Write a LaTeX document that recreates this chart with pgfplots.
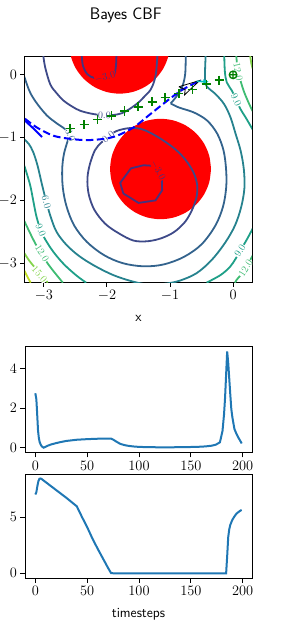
\documentclass[border=0pt]{standalone}
\usepackage{pgfplots}
\pgfplotsset{compat=1.18}
\definecolor{cmA}{HTML}{46327E}
\definecolor{cmB}{HTML}{3E4A89}
\definecolor{cmC}{HTML}{33638D}
\definecolor{cmD}{HTML}{26828E}
\definecolor{cmE}{HTML}{1FA088}
\definecolor{cmF}{HTML}{3FBC73}
\definecolor{cmG}{HTML}{84D44B}
\definecolor{cmH}{HTML}{C2DF23}
\definecolor{mplblue}{HTML}{1F77B4}
\definecolor{mplgreen}{HTML}{008000}
\definecolor{mplcyan}{HTML}{00BFBF}
\pgfplotsset{
 mpl/.style={scale only axis, axis line style={line width=1pt}, tick style={line width=1pt, black},
   tick align=outside, major tick length=4.6pt, xtick pos=bottom, ytick pos=left,
   tick label style={font=\fontsize{13.9}{16}\selectfont}},
 cl/.style={smooth, tension=0.55, line width=1.8pt},
}
\tikzset{clab/.style={font=\fontsize{10}{12}\selectfont, inner sep=0.5pt}}
\begin{document}
\begin{tikzpicture}
\begin{axis}[mpl, at={(25pt,-282pt)}, anchor=south west, width=227pt, height=226pt,
 xmin=-3.3, xmax=0.3, ymin=-3.3, ymax=0.3, xtick={-3,-2,-1,0}, ytick={-3,-2,-1,0},
 title={Bayes CBF}, title style={font=\sffamily\fontsize{16.7}{20}\selectfont, at={(axis description cs:0.5,1)}, anchor=base, yshift=31pt, xshift=-12.7pt},
 xlabel={x}, xlabel style={font=\sffamily\fontsize{13.9}{16}\selectfont, at={(axis description cs:0.5,0)}, anchor=base, yshift=-39.5pt}]
% obstacles
\addplot[draw=none, fill=red, smooth] coordinates {(-1.0,0.5) (-1.0273,0.7071) (-1.1072,0.9) (-1.2343,1.0657) (-1.4,1.1928) (-1.5929,1.2727) (-1.8,1.3) (-2.0071,1.2727) (-2.2,1.1928) (-2.3657,1.0657) (-2.4928,0.9) (-2.5727,0.7071) (-2.6,0.5) (-2.5727,0.2929) (-2.4928,0.1) (-2.3657,-0.0657) (-2.2,-0.1928) (-2.0071,-0.2727) (-1.8,-0.3) (-1.5929,-0.2727) (-1.4,-0.1928) (-1.2343,-0.0657) (-1.1072,0.1) (-1.0273,0.2929) (-1.0,0.5)};
\addplot[draw=none, fill=red, smooth] coordinates {(-0.35,-1.5) (-0.3773,-1.2929) (-0.4572,-1.1) (-0.5843,-0.9343) (-0.75,-0.8072) (-0.9429,-0.7273) (-1.15,-0.7) (-1.3571,-0.7273) (-1.55,-0.8072) (-1.7157,-0.9343) (-1.8428,-1.1) (-1.9227,-1.2929) (-1.95,-1.5) (-1.9227,-1.7071) (-1.8428,-1.9) (-1.7157,-2.0657) (-1.55,-2.1928) (-1.3571,-2.2727) (-1.15,-2.3) (-0.9429,-2.2727) (-0.75,-2.1928) (-0.5843,-2.0657) (-0.4572,-1.9) (-0.3773,-1.7071) (-0.35,-1.5)};
% level -3
\addplot[cl, cmA] coordinates {(-2.40,0.31) (-2.38,0.14) (-2.31,0.01) (-2.20,-0.05) (-2.03,-0.05) (-1.90,-0.03) (-1.86,0.12) (-1.85,0.31)};
\addplot[line width=1.8pt, cmA] coordinates {(-1.13,-1.66) (-1.125,-1.84) (-1.23,-2.0) (-1.50,-2.04) (-1.74,-1.89) (-1.79,-1.72) (-1.62,-1.49) (-1.42,-1.44) (-1.25,-1.45) (-1.15,-1.54) (-1.13,-1.66)};
% level 0
\addplot[cl, cmB] coordinates {(-3.01,0.31) (-2.98,0.12) (-2.90,-0.15) (-2.80,-0.29) (-2.69,-0.41) (-2.56,-0.50) (-2.43,-0.57) (-2.24,-0.62) (-2.04,-0.645) (-1.90,-0.64) (-1.76,-0.61) (-1.62,-0.53) (-1.50,-0.44) (-1.42,-0.36) (-1.31,-0.24) (-1.25,-0.10) (-1.22,0.05) (-1.20,0.31)};
\addplot[cl, cmB] coordinates {(-1.98,-0.99) (-1.86,-0.90) (-1.66,-0.85) (-1.47,-0.86) (-1.30,-0.93) (-1.10,-1.05) (-0.90,-1.20) (-0.75,-1.36) (-0.63,-1.55) (-0.57,-1.75) (-0.58,-1.95) (-0.65,-2.15) (-0.76,-2.34) (-0.93,-2.50) (-1.13,-2.60) (-1.35,-2.65) (-1.58,-2.64) (-1.82,-2.52) (-2.03,-2.37) (-2.20,-2.15) (-2.29,-1.90) (-2.31,-1.65) (-2.27,-1.42) (-2.19,-1.20) (-2.09,-1.08) (-1.98,-0.99)};
% level 3
\addplot[cl, cmC] coordinates {(-0.751,0.31) (-0.76,0.01) (-0.81,-0.20) (-0.91,-0.36) (-0.99,-0.455)};
\addplot[cl, cmC] coordinates {(-0.99,-0.455) (-0.86,-0.52) (-0.62,-0.60) (-0.41,-0.73) (-0.25,-0.94) (-0.15,-1.21) (-0.11,-1.52) (-0.11,-1.80) (-0.16,-2.10) (-0.28,-2.40) (-0.50,-2.70) (-0.78,-2.90) (-1.10,-3.02) (-1.42,-3.05) (-1.75,-3.00) (-2.05,-2.87) (-2.32,-2.66) (-2.52,-2.40) (-2.64,-2.10) (-2.70,-1.80) (-2.71,-1.50) (-2.68,-1.25) (-2.60,-0.98)};
\addplot[cl, cmC] coordinates {(-2.60,-0.98) (-2.66,-0.87) (-2.80,-0.77) (-2.95,-0.65) (-3.10,-0.47) (-3.21,-0.30) (-3.27,-0.15) (-3.31,-0.03)};
% level 6
\addplot[cl, cmD] coordinates {(-0.435,0.31) (-0.446,-0.04) (-0.42,-0.18) (-0.275,-0.31) (-0.14,-0.47) (-0.04,-0.68) (0.04,-0.94) (0.12,-1.21) (0.17,-1.50) (0.18,-1.80) (0.13,-2.10) (0.03,-2.40) (-0.13,-2.68) (-0.34,-2.95) (-0.58,-3.16) (-0.85,-3.28) (-1.10,-3.33) (-1.35,-3.34) (-1.60,-3.29) (-1.90,-3.19) (-2.20,-3.04) (-2.45,-2.88) (-2.65,-2.70) (-2.80,-2.50) (-2.89,-2.27) (-2.96,-2.03) (-3.03,-1.75) (-3.10,-1.45) (-3.17,-1.23) (-3.24,-1.10) (-3.31,-1.03)};
% level 9
\addplot[cl, cmE] coordinates {(-0.14,0.31) (-0.13,0.05) (-0.10,-0.12) (-0.02,-0.25) (0.05,-0.40) (0.12,-0.55) (0.20,-0.68) (0.31,-0.87)};
\addplot[cl, cmE] coordinates {(0.31,-2.45) (0.22,-2.62) (0.12,-2.79) (0.04,-2.93) (-0.05,-3.06) (-0.20,-3.19) (-0.42,-3.31)};
\addplot[cl, cmE] coordinates {(-3.31,-1.45) (-3.22,-1.75) (-3.17,-2.00) (-3.12,-2.25) (-3.05,-2.48) (-2.98,-2.62) (-2.85,-2.82) (-2.68,-3.02) (-2.48,-3.20) (-2.33,-3.31)};
% level 12
\addplot[cl, cmF] coordinates {(0.05,0.31) (0.06,0.20) (0.08,0.05) (0.12,-0.10) (0.17,-0.26) (0.24,-0.43) (0.31,-0.58)};
\addplot[cl, cmF] coordinates {(0.31,-2.88) (0.21,-3.06) (0.12,-3.19) (0.06,-3.26) (0.03,-3.31)};
\addplot[cl, cmF] coordinates {(-3.31,-2.33) (-3.22,-2.52) (-3.14,-2.68) (-3.04,-2.85) (-2.93,-3.02) (-2.83,-3.15) (-2.70,-3.31)};
% level 15
\addplot[cl, cmG] coordinates {(0.27,0.31) (0.29,0.18) (0.31,0.10)};
\addplot[cl, cmG] coordinates {(-3.31,-2.84) (-3.24,-2.95) (-3.16,-3.05) (-3.06,-3.17) (-2.98,-3.26) (-2.94,-3.31)};
% level 18
\addplot[cl, cmH] coordinates {(-3.31,-3.12) (-3.26,-3.22) (-3.21,-3.31)};
% contour labels
\node[clab, text=cmA, fill=red, rotate=12] at (axis cs:-2.03,-0.04) {$-3.0$};
\node[clab, text=cmA, fill=red, rotate=-62] at (axis cs:-1.19,-1.52) {$-3.0$};
\node[clab, text=cmB, fill=white, rotate=-3] at (axis cs:-2.04,-0.645) {$0.0$};
\node[clab, text=cmB, fill=white, rotate=38] at (axis cs:-1.98,-0.99) {$0.0$};
\node[clab, text=cmC, fill=white, rotate=-70] at (axis cs:-2.58,-0.96) {$3.0$};
\node[clab, text=cmD, fill=white, rotate=-75] at (axis cs:-2.96,-2.03) {$6.0$};
\node[clab, text=cmE, fill=white, rotate=-69] at (axis cs:-3.05,-2.48) {$9.0$};
\node[clab, text=cmF, fill=white, rotate=-58] at (axis cs:-3.03,-2.84) {$12.0$};
\node[clab, text=cmG, fill=white, rotate=-49] at (axis cs:-3.07,-3.18) {$15.0$};
\node[clab, text=cmE, fill=white, rotate=-65] at (axis cs:0.05,-0.40) {$9.0$};
\node[clab, text=cmF, fill=white, rotate=-79] at (axis cs:0.08,0.05) {$12.0$};
\node[clab, text=cmE, fill=white, rotate=58] at (axis cs:0.11,-2.80) {$9.0$};
\node[clab, text=cmF, fill=white, rotate=58] at (axis cs:0.20,-3.08) {$12.0$};
% trajectory
\addplot[blue, line width=2pt] coordinates {(-3.30,-0.73) (-3.16,-0.86) (-3.03,-0.99)};
\addplot[blue, line width=2pt, dash pattern=on 7.5pt off 3.5pt, smooth] coordinates {(-3.30,-0.70) (-3.11,-0.84) (-2.85,-0.97) (-2.58,-1.02) (-2.32,-1.04) (-2.05,-1.02) (-1.84,-0.97) (-1.576,-0.836) (-1.31,-0.624) (-1.045,-0.413) (-0.83,-0.254) (-0.62,-0.138) (-0.51,-0.095)};
\addplot[black, line width=0.8pt] coordinates {(-0.86,-0.19) (-0.53,-0.09) (-0.77,-0.32) (-0.76,-0.235) (-0.86,-0.19)};
\addplot[draw=none, fill=mplcyan] coordinates {(-0.58,-0.09) (-0.47,-0.095) (-0.47,-0.07) (-0.39,-0.11) (-0.47,-0.145) (-0.47,-0.12) (-0.58,-0.115)};
\addplot[only marks, mark=+, mark size=4.6pt, mplgreen, mark options={line width=1.6pt}] coordinates {(-2.584,-0.852) (-2.36,-0.794) (-2.15,-0.714) (-1.93,-0.651) (-1.72,-0.577) (-1.506,-0.508) (-1.283,-0.429) (-1.076,-0.36) (-0.86,-0.296) (-0.646,-0.233) (-0.424,-0.148) (-0.22,-0.085)};
\addplot[only marks, mark=oplus, mark size=3.8pt, mplgreen, mark options={line width=1.3pt}] coordinates {(0,0)};
\end{axis}

\begin{axis}[mpl, at={(25pt,-452.7pt)}, anchor=south west, width=227pt, height=106pt,
 xmin=-9.95, xmax=208.95, ymin=-0.2425, ymax=5.0925, xtick={0,50,100,150,200}, ytick={0,2,4}]
\addplot[mplblue, line width=2pt] coordinates {(0,2.75) (1,2.45) (1.6,1.89) (2.6,0.88) (3.4,0.5) (4.2,0.29) (5.3,0.15) (6.4,0.07) (8,0.01) (10,0.06) (12,0.11) (15,0.17) (20,0.24) (25,0.3) (30,0.35) (40,0.41) (50,0.44) (60,0.46) (70,0.47) (73,0.47) (75,0.42) (78,0.32) (82,0.2) (86,0.14) (90,0.1) (95,0.07) (100,0.05) (110,0.035) (120,0.03) (130,0.03) (140,0.035) (150,0.045) (160,0.06) (165,0.08) (170,0.11) (174,0.16) (178,0.28) (180.5,0.85) (182,1.7) (183,2.55) (184,3.7) (185,4.85) (186,4.3) (187,3.5) (188,2.7) (189,1.95) (190,1.55) (192,0.95) (194,0.7) (196,0.5) (198,0.32) (199,0.22)};
\end{axis}

\begin{axis}[mpl, at={(25pt,-578pt)}, anchor=south west, width=227pt, height=104pt,
 xmin=-9.95, xmax=208.95, ymin=-0.42, ymax=8.82, xtick={0,50,100,150,200}, ytick={0,5},
 xlabel={timesteps}, xlabel style={font=\sffamily\fontsize{13.9}{16}\selectfont, at={(axis description cs:0.5,0)}, anchor=base, yshift=-39pt}]
\addplot[mplblue, line width=2pt] coordinates {(0,7.0) (1,7.2) (2,7.75) (3,8.2) (4,8.4) (5,8.42) (6,8.38) (10,8.1) (20,7.4) (30,6.7) (40,5.95) (45,5.0) (50,4.1) (55,3.1) (60,2.2) (65,1.35) (70,0.5) (73,0.02) (75,0) (100,0) (150,0) (184,0) (185,1.5) (186,3.2) (187,3.9) (188,4.3) (190,4.75) (192,5.05) (194,5.3) (196,5.45) (198,5.58) (199,5.62)};
\end{axis}
\pgfresetboundingbox
\useasboundingbox (0pt,0pt) rectangle (283pt,-629pt);
\end{tikzpicture}
\end{document}
